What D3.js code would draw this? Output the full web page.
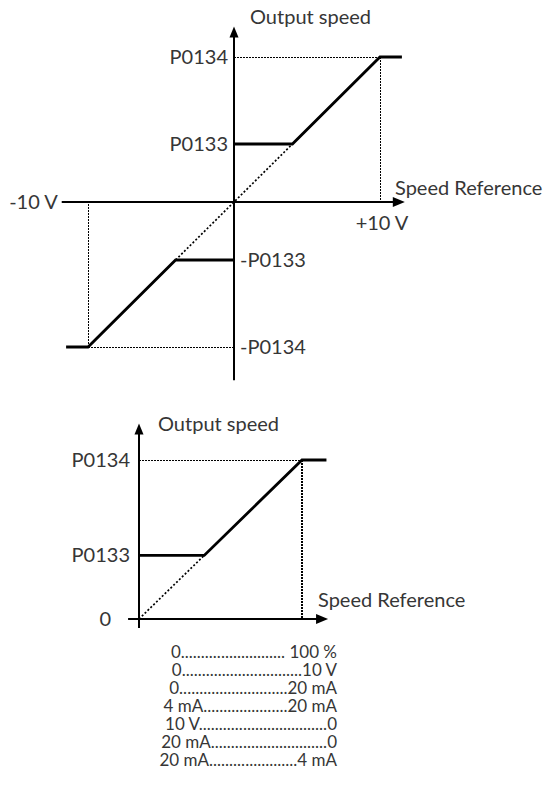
<!DOCTYPE html>
<html>
<head>
<meta charset="utf-8">
<script src="https://cdn.jsdelivr.net/npm/d3@7"></script>
<style>
  html, body { margin: 0; padding: 0; background: #fff; }
  svg { display: block; font-family: Lato, "Open Sans", sans-serif; }
  text { fill: #363636; font-size: 20px; font-weight: 400; white-space: pre; }
  text.range { font-size: 17px; }
  .guide { shape-rendering: crispEdges; }
</style>
</head>
<body>
<svg id="chart" width="543" height="791"></svg>
<script>
// Bipolar reference (-10 V .. +10 V) against output speed (% of P0134)
const bipolarRefPos = [0, 4, 10, 11.5];
const bipolarSpeedPos = [40, 40, 100, 100];
const bipolarRefNeg = [0, -4, -10, -11.5];
const bipolarSpeedNeg = [-40, -40, -100, -100];
const bipolarLevels = [100, 40, -40, -100];
const bipolarLevelLabels = ["P0134", "P0133", "-P0133", "-P0134"];
const bipolarRefTicks = [-10, 10];
const bipolarRefLabels = ["-10 V", "+10 V"];
const bipolarXExtent = [-11.8, 11.7];
const bipolarYExtent = [-123, 121];

// Unipolar reference (0 .. 100 %) against output speed
const unipolarRef = [0, 40, 100, 115];
const unipolarSpeed = [40, 40, 100, 100];
const unipolarLevels = [100, 40, 0];
const unipolarLevelLabels = ["P0134", "P0133", "0"];
const unipolarXExtent = [-6.7, 116];
const unipolarYExtent = [-5.7, 123];

// Reference ranges covered by the unipolar curve
const rangeStart = ["0", "0", "0", "4 mA", "10 V", "20 mA", "20 mA"];
const rangeEnd = [" 100 %", "10 V", "20 mA", "20 mA", "0", "0", "4 mA"];

const svg = d3.select("#chart");

function arrow(g, tip, dir, len, half) {
  const [tx, ty] = tip;
  const pts = dir === "up"
    ? [[tx, ty], [tx - half, ty + len], [tx + half, ty + len]]
    : [[tx, ty], [tx - len, ty - half], [tx - len, ty + half]];
  g.append("path").attr("d", d3.line()(pts) + "Z").attr("fill", "#000");
}

function dotted(g, pts, dash, w, crisp) {
  const p = g.append("path")
    .attr("d", d3.line()(pts))
    .attr("fill", "none")
    .attr("stroke", "#000")
    .attr("stroke-width", w)
    .attr("stroke-dasharray", dash);
  if (crisp) p.attr("class", "guide");
}

function curve(g, x, y, xs, ys) {
  const line = d3.line().x(d => x(d[0])).y(d => y(d[1]));
  g.append("path")
    .attr("d", line(d3.zip(xs, ys)))
    .attr("fill", "none")
    .attr("stroke", "#000")
    .attr("stroke-width", 2.8)
    .attr("stroke-linejoin", "miter");
}

// ---------- Bipolar chart ----------
{
  const x = d3.scaleLinear().domain([-10, 10]).range([88, 380]);
  const y = d3.scaleLinear().domain([-100, 100]).range([347, 57]);
  const g = svg.append("g");

  const top = bipolarLevels[0], bot = bipolarLevels[3];
  const xr = bipolarRefTicks[1], xl = bipolarRefTicks[0];
  dotted(g, [[x(0), y(top)], [x(xr), y(top)]], "2,1", 1, true);
  dotted(g, [[x(xr), y(top)], [x(xr), y(0)]], "2,1", 1, true);
  dotted(g, [[x(0), y(bot)], [x(xl), y(bot)]], "2,1", 1, true);
  dotted(g, [[x(xl), y(bot)], [x(xl), y(0)]], "2,1", 1, true);
  dotted(g, [[x(bipolarRefNeg[1]), y(bipolarSpeedNeg[1])], [x(bipolarRefPos[1]), y(bipolarSpeedPos[1])]], "2,2", 1.7);

  g.append("line").attr("x1", x(bipolarXExtent[0])).attr("x2", x(bipolarXExtent[1]) - 8)
    .attr("y1", y(0)).attr("y2", y(0)).attr("stroke", "#000").attr("stroke-width", 2);
  arrow(g, [x(bipolarXExtent[1]), y(0)], "right", 12, 5);
  g.append("line").attr("x1", x(0)).attr("x2", x(0))
    .attr("y1", y(bipolarYExtent[1]) + 8).attr("y2", y(bipolarYExtent[0]))
    .attr("stroke", "#000").attr("stroke-width", 2);
  arrow(g, [x(0), y(bipolarYExtent[1])], "up", 11, 4.5);

  curve(g, x, y, bipolarRefPos, bipolarSpeedPos);
  curve(g, x, y, bipolarRefNeg, bipolarSpeedNeg);

  bipolarLevels.forEach((v, i) => {
    const pos = v > 0;
    g.append("text")
      .attr("x", pos ? x(0) - 6 : x(0) + 6)
      .attr("y", y(v))
      .attr("dy", "0.35em")
      .attr("text-anchor", pos ? "end" : "start")
      .text(bipolarLevelLabels[i]);
  });

  g.append("text").attr("x", x(bipolarXExtent[0]) - 4).attr("y", y(0)).attr("dy", "0.35em")
    .attr("text-anchor", "end").text(bipolarRefLabels[0]);
  g.append("text").attr("x", x(bipolarRefTicks[1]) + 2).attr("y", y(0) + 21).attr("dy", "0.35em")
    .attr("text-anchor", "middle").text(bipolarRefLabels[1]);

  g.append("text").attr("x", x(0) + 16).attr("y", 17).attr("dy", "0.35em").text("Output speed");
  g.append("text").attr("x", 395).attr("y", y(0) - 14).attr("dy", "0.35em").text("Speed Reference");
}

// ---------- Unipolar chart ----------
{
  const x = d3.scaleLinear().domain([0, 100]).range([139, 302]);
  const y = d3.scaleLinear().domain([0, 100]).range([619, 460]);
  const g = svg.append("g");

  dotted(g, [[x(0), y(100)], [x(100), y(100)]], "2,1", 1, true);
  dotted(g, [[x(100), y(100)], [x(100), y(0)]], "2,1", 1.2, true);
  dotted(g, [[x(0), y(0)], [x(unipolarRef[1]), y(unipolarSpeed[1])]], "2,2", 1.7);

  g.append("line").attr("x1", x(unipolarXExtent[0])).attr("x2", x(unipolarXExtent[1]) - 8)
    .attr("y1", y(0)).attr("y2", y(0)).attr("stroke", "#000").attr("stroke-width", 2);
  arrow(g, [x(unipolarXExtent[1]), y(0)], "right", 12, 5);
  g.append("line").attr("x1", x(0)).attr("x2", x(0))
    .attr("y1", y(unipolarYExtent[1]) + 8).attr("y2", y(unipolarYExtent[0]))
    .attr("stroke", "#000").attr("stroke-width", 2);
  arrow(g, [x(0), y(unipolarYExtent[1])], "up", 11, 4.5);

  curve(g, x, y, unipolarRef, unipolarSpeed);

  unipolarLevels.forEach((v, i) => {
    g.append("text")
      .attr("x", v === 0 ? x(0) - 28 : x(0) - 9)
      .attr("y", y(v))
      .attr("dy", "0.35em")
      .attr("text-anchor", "end")
      .text(unipolarLevelLabels[i]);
  });

  g.append("text").attr("x", x(0) + 19).attr("y", y(unipolarYExtent[1]) + 1).attr("dy", "0.35em").text("Output speed");
  g.append("text").attr("x", 318).attr("y", y(0) - 19).attr("dy", "0.35em").text("Speed Reference");

  // range table: start ....... end, right edge aligned
  const right = 337;
  const measure = s => {
    const t = g.append("text").attr("class", "range").text(s);
    const w = t.node().getComputedTextLength();
    t.remove();
    return w;
  };
  const dotW = measure("..........") / 10;
  const w0 = measure("0");
  rangeStart.forEach((s, i) => {
    const ws = measure(s), we = measure(rangeEnd[i]);
    const left = 170 - 0.25 * (ws - w0);
    const n = Math.max(0, Math.round((right - left - ws - we) / dotW));
    g.append("text")
      .attr("class", "range")
      .attr("x", right)
      .attr("y", 652 + i * 18)
      .attr("dy", "0.35em")
      .attr("text-anchor", "end")
      .text(s + ".".repeat(n) + rangeEnd[i]);
  });
}
</script>
</body>
</html>
